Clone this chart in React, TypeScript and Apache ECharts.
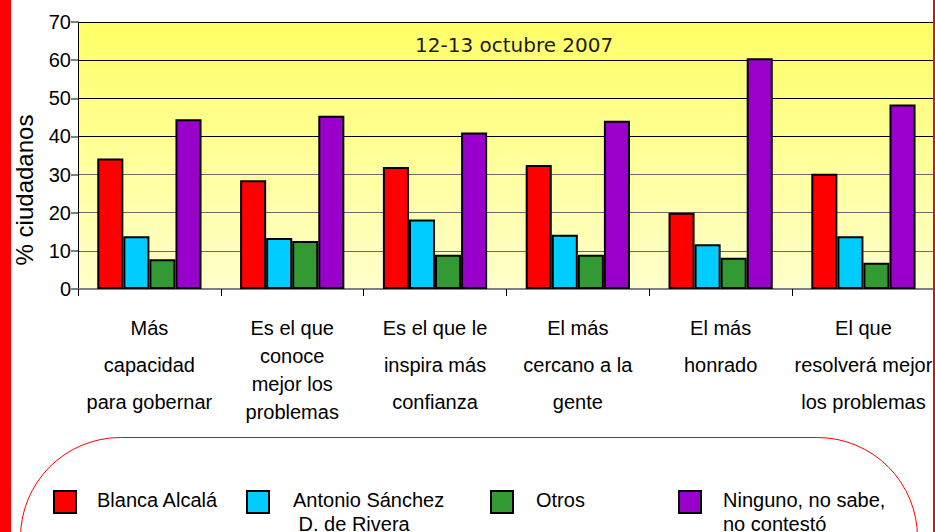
import React, { useEffect, useRef } from "react";
import * as echarts from "echarts";

const categories = [
  "Más\ncapacidad\npara gobernar",
  "Es el que\nconoce\nmejor los\nproblemas",
  "Es el que le\ninspira más\nconfianza",
  "El más\ncercano a la\ngente",
  "El más\nhonrado",
  "El que\nresolverá mejor\nlos problemas",
];

const seriesNames = [
  "Blanca Alcalá",
  "Antonio Sánchez\n D. de Rivera",
  "Otros",
  "Ninguno, no sabe,\nno contestó",
];

const blancaAlcala = [34.2, 28.5, 32.0, 32.5, 20.0, 30.2];
const antonioSanchez = [13.8, 13.4, 18.2, 14.2, 11.7, 13.8];
const otros = [7.8, 12.6, 9.0, 9.0, 8.2, 6.9];
const ninguno = [44.5, 45.4, 41.0, 44.1, 60.5, 48.4];

const seriesValues = [blancaAlcala, antonioSanchez, otros, ninguno];
const seriesColors = ["#FF0000", "#00CCFF", "#339933", "#9900CC"];

const yTicks = [0, 10, 20, 30, 40, 50, 60, 70];
const chartTitle = "12-13 octubre 2007";
const yAxisTitle = "% ciudadanos";

const FONT = '"Liberation Sans", Arial, sans-serif';

export default function App() {
  const ref = useRef<HTMLDivElement>(null);

  useEffect(() => {
    if (!ref.current) return;
    const chart = echarts.init(ref.current, null, { renderer: "svg" });

    const legendX = [54, 247, 491, 679];
    const legendTextX = [97, 293, 536, 723];

    const legendGraphics: any[] = [];
    seriesNames.forEach((name, i) => {
      legendGraphics.push({
        type: "rect",
        shape: { x: legendX[i], y: 491, width: 22, height: 22 },
        style: { fill: seriesColors[i], stroke: "#000", lineWidth: 2 },
      });
      legendGraphics.push({
        type: "text",
        x: legendTextX[i],
        y: 488,
        style: {
          text: name,
          font: `20px ${FONT}`,
          fill: "#000",
          align: "left",
          verticalAlign: "top",
          lineHeight: 24,
        },
      });
    });

    const option: any = {
      animation: false,
      backgroundColor: "#ffffff",
      title: {
        text: chartTitle,
        left: 415,
        top: 35,
        padding: 0,
        textStyle: {
          fontFamily: '"DejaVu Sans", Verdana, sans-serif',
          fontSize: 20,
          fontWeight: "normal",
          color: "#1a1a1a",
        },
      },
      grid: {
        left: 78,
        top: 22,
        right: -4,
        bottom: 243,
        show: true,
        borderWidth: 0,
        backgroundColor: new echarts.graphic.LinearGradient(0, 0, 0, 1, [
          { offset: 0, color: "#FFFF66" },
          { offset: 1, color: "#FFFFCC" },
        ]),
      },
      xAxis: {
        type: "category",
        data: categories,
        boundaryGap: true,
        axisLine: { show: true, lineStyle: { color: "#808080", width: 2 } },
        axisTick: { show: true, length: 7, lineStyle: { color: "#000", width: 1 } },
        axisLabel: {
          interval: 0,
          margin: 20,
          color: "#000",
          fontFamily: FONT,
          fontSize: 20,
          formatter: (v: string) => {
            const lines = v.split("\n");
            if (lines.length >= 4) {
              return "{g| }\n" + lines.map((l) => `{q|${l}}`).join("\n");
            }
            return lines.map((l) => `{t|${l}}`).join("\n");
          },
          rich: {
            t: { fontFamily: FONT, fontSize: 20, lineHeight: 37, color: "#000" },
            q: { fontFamily: FONT, fontSize: 20, lineHeight: 28, color: "#000" },
            g: { fontSize: 4, lineHeight: 4.5 },
          },
        },
        splitLine: { show: false },
      },
      yAxis: {
        type: "value",
        min: yTicks[0],
        max: yTicks[yTicks.length - 1],
        interval: 10,
        axisLine: { show: true, lineStyle: { color: "#000", width: 1 } },
        axisTick: { show: true, length: 7, lineStyle: { color: "#555", width: 1.5 } },
        axisLabel: {
          margin: 7,
          color: "#000",
          fontFamily: FONT,
          fontSize: 20,
        },
        splitLine: {
          show: true,
          lineStyle: {
            width: 1,
            color: ["#6a6a6a", "#6a6a6a", "#6a6a6a", "#6a6a6a", "#000", "#000", "#000", "#000"],
          },
        },
      },
      series: seriesNames.map((name, i) => ({
        name,
        type: "bar",
        data: seriesValues[i],
        barGap: "0%",
        barCategoryGap: "27%",
        itemStyle: {
          color: seriesColors[i],
          borderColor: "#000",
          borderWidth: 2,
        },
      })),
      graphic: [
        {
          type: "text",
          x: 24,
          y: 190,
          rotation: Math.PI / 2,
          style: {
            text: yAxisTitle,
            font: `24px ${FONT}`,
            fill: "#000",
            align: "center",
            verticalAlign: "middle",
          },
        },
        {
          type: "rect",
          shape: { x: 20.5, y: 437.5, width: 897, height: 200, r: 100 },
          style: { fill: "none", stroke: "#FF0000", lineWidth: 1 },
        },
        ...legendGraphics,
        {
          type: "rect",
          z: 100,
          shape: { x: 0, y: 0, width: 11, height: 532 },
          style: { fill: "#FF0000" },
        },
        {
          type: "rect",
          z: 100,
          shape: { x: 933, y: 0, width: 2, height: 532 },
          style: { fill: "#FF0000" },
        },
      ],
    };

    chart.setOption(option);
    return () => chart.dispose();
  }, []);

  return (
    <div
      ref={ref}
      style={{ position: "fixed", left: 0, top: 0, width: 935, height: 532, background: "#fff" }}
    />
  );
}
